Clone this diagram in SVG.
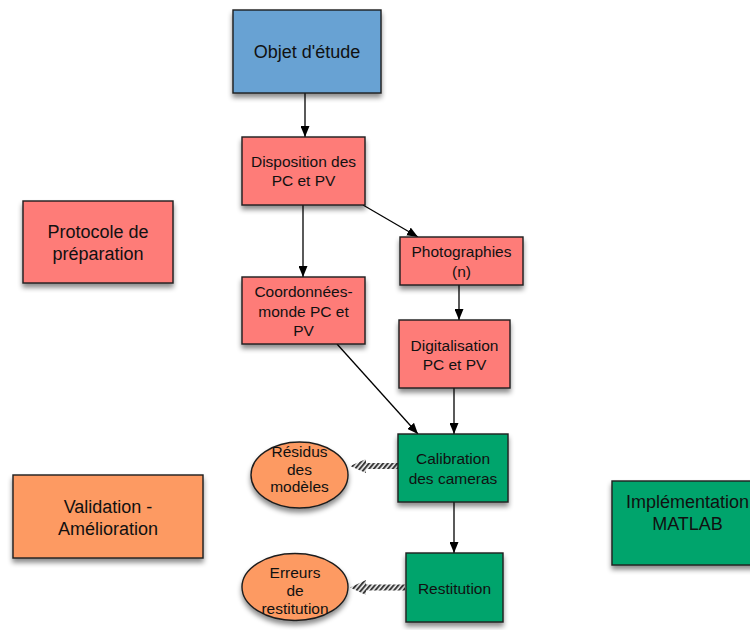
<svg xmlns="http://www.w3.org/2000/svg" width="750" height="630" viewBox="0 0 750 630">
  <style>
    .box { stroke: #1e1e1e; stroke-width: 1.4; filter: url(#shadow); }
    .blue { fill: #67a2d3; }
    .red { fill: #fe7b78; }
    .green { fill: #03a46c; }
    .orange { fill: #fd9a62; }
    text { font-family: "Liberation Sans", Arial, Helvetica, sans-serif; fill: #111; text-anchor: middle; }
    .big { font-size: 18px; }
    .small { font-size: 15.5px; }
    .edge { stroke: #000; stroke-width: 1.3; fill: none; marker-end: url(#arrow); }
    .hatch { fill: url(#stripes); }
  </style>
  <defs>
    <filter id="shadow" x="-20%" y="-20%" width="140%" height="150%">
      <feDropShadow dx="0" dy="4" stdDeviation="2.5" flood-color="#000" flood-opacity="0.45"/>
    </filter>
    <marker id="arrow" viewBox="0 0 11 9" refX="11" refY="4.5" markerWidth="11" markerHeight="9" markerUnits="userSpaceOnUse" orient="auto">
      <path d="M0,0 L11,4.5 L0,9 Z" fill="#000"/>
    </marker>
    <pattern id="stripes" patternUnits="userSpaceOnUse" width="3.6" height="3.6" patternTransform="rotate(40)">
      <rect width="3.6" height="3.6" fill="#f2f2f2"/>
      <rect width="2" height="3.6" fill="#3a3a3a"/>
    </pattern>
  </defs>

  <!-- connectors -->
  <g id="connectors">
    <line class="edge" x1="305" y1="93" x2="305" y2="137"/>
    <line class="edge" x1="303" y1="205" x2="303" y2="277"/>
    <line class="edge" x1="363" y1="205" x2="418" y2="237"/>
    <line class="edge" x1="459" y1="285" x2="459" y2="320"/>
    <line class="edge" x1="337" y1="344" x2="418" y2="434"/>
    <line class="edge" x1="454" y1="388" x2="454" y2="434"/>
    <line class="edge" x1="454" y1="502" x2="454" y2="553"/>
    <!-- hatched links to the error ellipses -->
    <path class="hatch" d="M398,463 L366,463 L366,459 L350,466 L366,473 L366,469 L398,469 Z"/>
    <path class="hatch" d="M405,584.5 L366,584.5 L366,580 L350,587.5 L366,595 L366,590.5 L405,590.5 Z"/>
  </g>

  <g id="objet">
    <rect class="box blue" x="233" y="10" width="148" height="83"/>
    <text class="big" x="307" y="58">Objet d'étude</text>
  </g>

  <g id="disposition">
    <rect class="box red" x="242" y="137" width="123" height="68"/>
    <text class="small" x="303.5" y="166.5">Disposition des</text>
    <text class="small" x="303.5" y="186">PC et PV</text>
  </g>

  <g id="photographies">
    <rect class="box red" x="400" y="237" width="123" height="48"/>
    <text class="small" x="461.5" y="257">Photographies</text>
    <text class="small" x="461.5" y="276.5">(n)</text>
  </g>

  <g id="coordonnees">
    <rect class="box red" x="242" y="277" width="123" height="67"/>
    <text class="small" x="303.5" y="297">Coordonnées-</text>
    <text class="small" x="303.5" y="316.5">monde PC et</text>
    <text class="small" x="303.5" y="336">PV</text>
  </g>

  <g id="digitalisation">
    <rect class="box red" x="399" y="320" width="111" height="68"/>
    <text class="small" x="454.5" y="350.5">Digitalisation</text>
    <text class="small" x="454.5" y="370">PC et PV</text>
  </g>

  <g id="calibration">
    <rect class="box green" x="398" y="434" width="110" height="68"/>
    <text class="small" x="453" y="464">Calibration</text>
    <text class="small" x="453" y="483.5">des cameras</text>
  </g>

  <g id="restitution">
    <rect class="box green" x="406" y="553" width="97" height="69"/>
    <text class="small" x="454.5" y="593.5">Restitution</text>
  </g>

  <g id="residus">
    <ellipse class="box orange" cx="299.5" cy="475" rx="48.5" ry="33"/>
    <text class="small" x="299.5" y="456.5">Résidus</text>
    <text class="small" x="299.5" y="474.5">des</text>
    <text class="small" x="299.5" y="492">modèles</text>
  </g>

  <g id="erreurs">
    <ellipse class="box orange" cx="295" cy="587" rx="53" ry="33.5"/>
    <text class="small" x="295" y="577.5">Erreurs</text>
    <text class="small" x="295" y="595.5">de</text>
    <text class="small" x="295" y="614">restitution</text>
  </g>

  <g id="protocole">
    <rect class="box red" x="23" y="201" width="150" height="82"/>
    <text class="big" x="98" y="238">Protocole de</text>
    <text class="big" x="98" y="260">préparation</text>
  </g>

  <g id="validation">
    <rect class="box orange" x="13" y="475" width="190" height="83"/>
    <text class="big" x="108" y="513">Validation -</text>
    <text class="big" x="108" y="535">Amélioration</text>
  </g>

  <g id="implementation">
    <rect class="box green" x="612" y="481" width="152" height="84"/>
    <text class="big" x="687.5" y="507.5">Implémentation</text>
    <text class="big" x="687.5" y="530">MATLAB</text>
  </g>
</svg>
